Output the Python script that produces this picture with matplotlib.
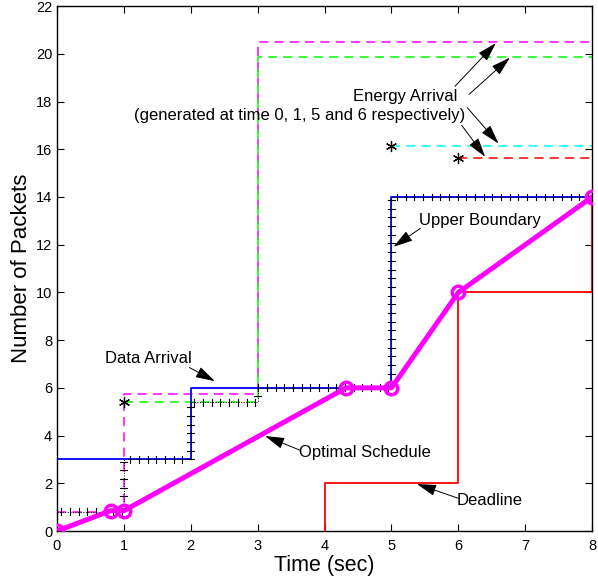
import numpy as np
import matplotlib
matplotlib.use('Agg')
import matplotlib.pyplot as plt
import matplotlib.patheffects as pe

plt.rcParams['font.family'] = ['Liberation Sans', 'DejaVu Sans']

# data arrival (cumulative packets)
data_t = [0, 2, 2, 5, 5, 8]
data_y = [3, 3, 6, 6, 14, 14]

# upper boundary
ub_t = [0, 1, 1, 2, 2, 3, 3, 5, 5, 8]
ub_y = [0.8, 0.8, 3, 3, 5.4, 5.4, 6, 6, 14, 14]

# energy arrivals (generated at time 0, 1, 5 and 6)
e0_t = [0, 1, 1, 3, 3, 8]
e0_y = [0.8, 0.8, 5.75, 5.75, 20.5, 20.5]
e1_t = [1, 3, 3, 8]
e1_y = [5.4, 5.4, 19.85, 19.85]
e5_t = [5, 8]
e5_y = [16.15, 16.15]
e6_t = [6, 8]
e6_y = [15.62, 15.62]
star_t = [1, 5, 6]
star_y = [5.4, 16.15, 15.62]

# deadline
dl_t = [4, 4, 6, 6, 8, 8]
dl_y = [0, 2, 2, 10, 10, 14]

# optimal schedule
opt_t = [0, 0.8, 1, 4.32, 5, 6, 8]
opt_y = [0, 0.85, 0.85, 6, 6, 10, 14]

fig = plt.figure(figsize=(5.98, 5.82), dpi=100)
ax = fig.add_axes([0.0953, 0.0876, 0.895, 0.902])

ax.plot(data_t, data_y, color='#0000ff', lw=1.3, zorder=3)

dash = (6, 4)
ax.plot(e0_t, e0_y, color='#ff00ff', lw=1.1, dashes=dash, zorder=2)
ax.plot(e1_t, e1_y, color='#00ff00', lw=1.1, dashes=dash, zorder=2)
ax.plot(e5_t, e5_y, color='#00ffff', lw=1.1, dashes=dash, zorder=2)
ax.plot(e6_t, e6_y, color='#ff0000', lw=1.1, dashes=dash, zorder=2)
ax.plot(star_t, star_y, ls='none', marker=(6, 2, 0), color='black',
        markersize=8, mew=0.9, zorder=4)

ax.plot(dl_t, dl_y, color='#ff0000', lw=1.3, zorder=3)

# upper boundary: dotted line with "+" ticks along it
ax.plot(ub_t, ub_y, color='black', lw=0.7, ls=':', zorder=4)
ax.plot(ub_t, ub_y, color='black', lw=0.8, ls='-', zorder=4,
        path_effects=[pe.TickedStroke(spacing=6.2, angle=90, length=0.4),
                      pe.TickedStroke(spacing=6.2, angle=-90, length=0.4)])

ax.plot(opt_t, opt_y, color='#ff00ff', lw=3.6, marker='o', markersize=9,
        markerfacecolor='none', markeredgewidth=2.5, zorder=5)

ax.set_xlim(0, 8)
ax.set_ylim(0, 22)
ax.set_xticks(np.arange(0, 9, 1))
ax.set_yticks(np.arange(0, 23, 2))
ax.tick_params(direction='in', length=5, labelsize=10.5, top=True, right=True,
               width=0.8, colors='black')
ax.tick_params(axis='x', pad=6)
for s in ax.spines.values():
    s.set_linewidth(1.0)
ax.set_xlabel('Time (sec)', fontsize=15.5, labelpad=1)
ax.set_ylabel('Number of Packets', fontsize=16, labelpad=3)

arw = dict(arrowstyle='-|>,head_length=1.2,head_width=0.35', color='black',
           lw=0.7, shrinkA=0, shrinkB=0)
fs = 12

ax.annotate('', xy=(2.36, 6.28), xytext=(1.98, 6.85), arrowprops=arw)
ax.text(1.36, 7.25, 'Data Arrival', fontsize=fs, ha='center', va='center')

ax.text(5.2, 18.2, 'Energy Arrival', fontsize=fs, ha='center', va='center')
ax.text(3.63, 17.4, '(generated at time 0, 1, 5 and 6 respectively)',
        fontsize=fs, ha='center', va='center')
ax.annotate('', xy=(6.56, 20.45), xytext=(5.95, 18.64), arrowprops=arw)
ax.annotate('', xy=(6.77, 19.84), xytext=(6.16, 18.30), arrowprops=arw)
ax.annotate('', xy=(6.60, 16.24), xytext=(6.13, 17.75), arrowprops=arw)
ax.annotate('', xy=(6.40, 15.68), xytext=(6.05, 17.0), arrowprops=arw)

ax.text(6.32, 13.03, 'Upper Boundary', fontsize=fs, ha='center', va='center')
ax.annotate('', xy=(5.03, 11.91), xytext=(5.43, 12.68), arrowprops=arw)

ax.text(4.6, 3.28, 'Optimal Schedule', fontsize=fs, ha='center', va='center')
ax.annotate('', xy=(3.11, 3.98), xytext=(3.63, 3.39), arrowprops=arw)

ax.text(6.47, 1.27, 'Deadline', fontsize=fs, ha='center', va='center')
ax.annotate('', xy=(5.38, 1.97), xytext=(6.0, 1.37), arrowprops=arw)

fig.savefig('out.png', dpi=100)
